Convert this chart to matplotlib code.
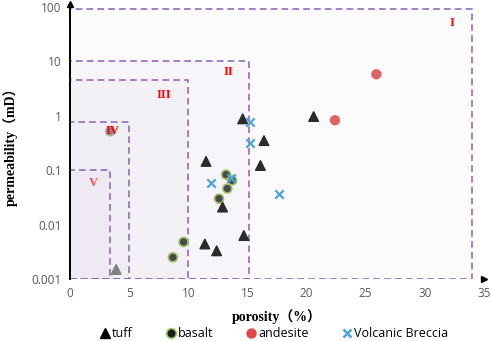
import numpy as np
import matplotlib
matplotlib.use("Agg")
import matplotlib.pyplot as plt
from matplotlib.patches import Rectangle
from matplotlib.lines import Line2D

# reservoir classes: porosity / permeability upper bounds
class_names = ["I", "II", "III", "IV", "V"]
class_phi_max = [34.0, 15.1, 10.0, 5.0, 3.4]
class_k_max = [90.0, 10.0, 4.5, 0.78, 0.1]
class_label_x = [32.3, 13.4, 7.9, 3.6, 2.0]
class_label_y = [50.0, 6.3, 2.4, 0.53, 0.058]

tuff_phi = [3.9, 11.5, 12.9, 11.4, 12.4, 14.7, 14.6, 20.6, 16.4, 16.1]
tuff_k = [0.0015, 0.145, 0.021, 0.0044, 0.0033, 0.0063, 0.88, 0.97, 0.35, 0.122]

basalt_phi = [13.2, 13.7, 13.3, 12.6, 9.6, 8.7, 3.4]
basalt_k = [0.083, 0.065, 0.046, 0.030, 0.0048, 0.0025, 0.52]

andesite_phi = [25.9, 22.4]
andesite_k = [5.8, 0.83]

breccia_phi = [15.2, 15.2, 17.7, 11.9, 13.6]
breccia_k = [0.78, 0.31, 0.037, 0.059, 0.071]

fig = plt.figure(figsize=(4.91, 3.41), dpi=100)
ax = fig.add_axes([0.1426, 0.1818, 0.843, 0.7977])
ax.set_facecolor("white")

edge = "#8f6cbd"
for i, (xm, ym) in enumerate(zip(class_phi_max, class_k_max)):
    ax.add_patch(Rectangle((0, 0.001), xm, ym - 0.001, facecolor="#9a78b8",
                           alpha=0.03, edgecolor="none", zorder=1))
    ax.add_patch(Rectangle((0, 0.001), xm, ym - 0.001, fill=False,
                           edgecolor=edge, ls=(0, (4, 2.5)), lw=1.2, zorder=2))

rn_colors = ["#ff0000", "#ff0000", "#ff0000", "#ff0000", "#ff4a4a"]
for name, lx, ly, c in zip(class_names, class_label_x, class_label_y, rn_colors):
    ax.text(lx, ly, name, color=c, fontsize=9, fontweight="bold",
            family="Liberation Serif", ha="center", va="center", zorder=3)

# points
tri_colors = ["#808080"] + ["#2b2b2b"] * (len(tuff_phi) - 1)
ax.scatter(tuff_phi, tuff_k, marker="^", s=48, c=tri_colors, zorder=5)
bas_face = ["#4a4a4a"] * (len(basalt_phi) - 1) + ["#8a8a8a"]
bas_edge = ["#9cc46a"] * (len(basalt_phi) - 1) + ["#b0b0b0"]
ax.scatter(basalt_phi, basalt_k, marker="o", s=42, c=bas_face,
           edgecolors=bas_edge, linewidths=1.2, zorder=2.5)
ax.scatter(andesite_phi, andesite_k, marker="o", s=55, c="#e06262",
           edgecolors="none", zorder=5)
ax.scatter(breccia_phi, breccia_k, marker="x", s=36, c="#4ea3d8",
           linewidths=1.6, zorder=6)

ax.set_yscale("log")
ax.set_xlim(0, 35)
ax.set_ylim(0.001, 100)
ax.set_xticks([0, 5, 10, 15, 20, 25, 30, 35])
ax.set_yticks([0.001, 0.01, 0.1, 1, 10, 100])
ax.set_yticklabels(["0.001", "0.01", "0.1", "1", "10", "100"])
ax.minorticks_off()
ax.tick_params(length=0, pad=6, labelsize=8.5, labelcolor="#595959")
for lab in ax.get_xticklabels() + ax.get_yticklabels():
    lab.set_family("Open Sans")

for s in ["top", "right", "bottom"]:
    ax.spines[s].set_visible(False)
ax.spines["left"].set_color("black")
ax.spines["left"].set_linewidth(1.4)
ax.spines["left"].set_zorder(4)
ax.plot(0, 1.01, marker="^", color="black", ms=5, transform=ax.transAxes,
        clip_on=False, zorder=7)
ax.plot(1.0, 0, marker=">", color="black", ms=5, transform=ax.transAxes,
        clip_on=False, zorder=7)

lab_font = ["Liberation Serif", "Noto Sans CJK SC"]
ax.set_xlabel("porosity（%）", family=lab_font, fontweight="bold",
              fontsize=10, labelpad=6)
ax.set_ylabel("permeability（mD）", family=lab_font, fontweight="bold",
              fontsize=10, labelpad=10)

handles = [
    Line2D([], [], ls="none", marker="^", color="black", ms=7),
    Line2D([], [], ls="none", marker="o", mfc="#1e1e1e", mec="#9cc46a", mew=1.2, ms=7),
    Line2D([], [], ls="none", marker="o", mfc="#e04848", mec="none", ms=7.5),
    Line2D([], [], ls="none", marker="x", color="#4ea3d8", mew=1.8, ms=6),
]
labels = ["tuff", "basalt", "andesite", "Volcanic Breccia"]
fig.legend(handles, labels, loc="center", bbox_to_anchor=(0.558, 0.022),
           ncol=4, frameon=False, handletextpad=0.2, handlelength=0.8,
           columnspacing=2.6, borderpad=0.1,
           prop={"family": "Open Sans", "size": 9})

fig.savefig("out.png", dpi=100)
